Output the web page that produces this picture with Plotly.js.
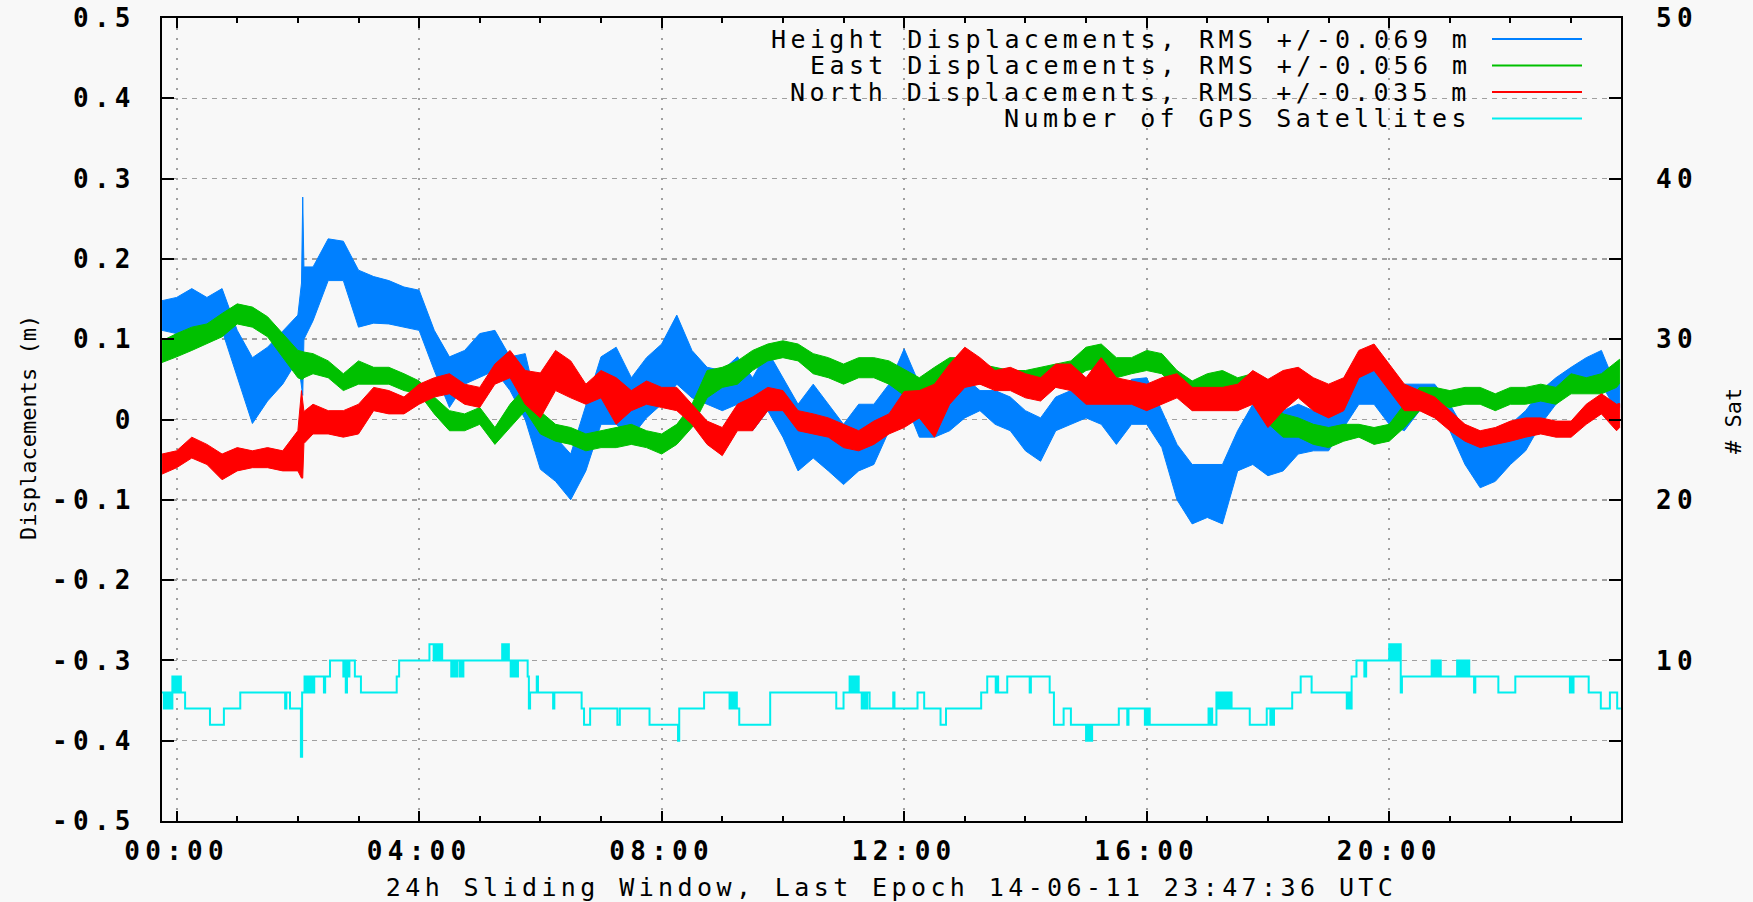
<!DOCTYPE html>
<html><head><meta charset="utf-8">
<script src="https://cdn.plot.ly/plotly-3.0.1.min.js"></script>
<style>
html,body{margin:0;padding:0;background:#f8f8f8;}
#chart{width:1753px;height:902px;}
.xtick text, .ytick text, .y2tick text { letter-spacing: 5.3px; }
text.xtitle, text.annotation-text[style*="25px"] { letter-spacing: 4.4px; }
</style></head><body><div id="chart"></div>
<script>
// Sample times, hours of 2014-06-11 UTC (negative = previous day)
const hours = [-0.24,
  0, 0.25, 0.5, 0.75,
  1, 1.25, 1.5, 1.75,
  2, 2.06, 2.08, 2.1, 2.25, 2.5, 2.75,
  3, 3.25, 3.5, 3.75,  4, 4.25, 4.5, 4.75,  5, 5.25, 5.5, 5.75,
  6, 6.25, 6.5, 6.75,  7, 7.25, 7.5, 7.75,  8, 8.25, 8.5, 8.75,
  9, 9.25, 9.5, 9.75,  10, 10.25, 10.5, 10.75,  11, 11.25, 11.5, 11.75,
  12, 12.25, 12.5, 12.75,  13, 13.25, 13.5, 13.75,  14, 14.25, 14.5, 14.75,
  15, 15.25, 15.5, 15.75,  16, 16.25, 16.5, 16.75,  17, 17.25, 17.5, 17.75,
  18, 18.25, 18.5, 18.75,  19, 19.25, 19.5, 19.75,  20, 20.25, 20.5, 20.75,
  21, 21.25, 21.5, 21.75,  22, 22.25, 22.5, 22.75,  23, 23.25, 23.5, 23.75,
  23.8];

// Height displacement envelope (m): upper / lower edge of the noisy trace
const heightHi = [0.148,
  0.152, 0.163, 0.152, 0.163,
  0.111, 0.077, 0.09, 0.11,
  0.13, 0.17, 0.277, 0.19, 0.19, 0.225, 0.222,
  0.186, 0.178, 0.173, 0.165,  0.161, 0.111, 0.078, 0.086,  0.107, 0.111, 0.078, 0.082,
  0.002, -0.022, -0.043, 0.019,  0.078, 0.09, 0.052, 0.077,  0.094, 0.13, 0.086, 0.065,
  0.061, 0.078, 0.052, 0.085,  0.052, 0.019, 0.044, 0.019,  -0.006, 0.019, 0.019, 0.044,
  0.088, 0.044, 0.044, 0.036,  0.052, 0.036, 0.036, 0.028,  0.011, 0.002, 0.028, 0.036,
  0.052, 0.044, 0.028, 0.05,  0.052, 0.011, -0.031, -0.056,  -0.056, -0.056, -0.014, 0.019,
  0.015, 0.011, 0.019, 0.011,  0.011, 0.04, 0.061, 0.065,  0.04, 0.044, 0.044, 0.044,
  0.019, -0.014, -0.035, -0.031,  -0.006, 0.011, 0.036, 0.052,  0.065, 0.077, 0.086, 0.04,
  0.045];
const heightLo = [0.111,
  0.107, 0.115, 0.115, 0.111,
  0.052, -0.005, 0.023, 0.044,
  0.075, 0.04, 0.03, 0.10, 0.123, 0.173, 0.173,
  0.115, 0.12, 0.119, 0.115,  0.111, 0.061, 0.015, 0.044,  0.052, 0.061, 0.036, 0.0,
  -0.062, -0.077, -0.10, -0.064,  -0.006, -0.006, -0.022, 0.002,  0.019, 0.044, 0.027, 0.019,
  0.011, 0.019, -0.014, 0.011,  -0.022, -0.064, -0.048, -0.064,  -0.081, -0.064, -0.056, -0.014,
  0.025, -0.022, -0.022, -0.014,  0.002, 0.011, -0.006, -0.014,  -0.039, -0.052, -0.014, -0.006,
  0.002, -0.006, -0.031, -0.006,  -0.006, -0.035, -0.10, -0.13,  -0.122, -0.13, -0.064, -0.056,
  -0.07, -0.064, -0.043, -0.039,  -0.039, -0.01, 0.019, 0.019,  -0.006, -0.014, 0.011, 0.019,
  -0.014, -0.056, -0.085, -0.077,  -0.056, -0.039, -0.006, 0.019,  0.036, 0.044, 0.044, 0.011,
  0.015];

// East displacement envelope (m)
const eastHi = [0.098,
  0.107, 0.115, 0.119, 0.132,
  0.144, 0.14, 0.128, 0.107,
  0.086, 0.085, 0.084, 0.084, 0.082, 0.073, 0.057,
  0.073, 0.065, 0.065, 0.057,  0.048, 0.028, 0.011, 0.007,  0.015, -0.01, 0.019, 0.04,
  0.01, -0.006, -0.01, -0.018,  -0.014, -0.01, -0.006, -0.014,  -0.018, -0.006, 0.019, 0.061,
  0.065, 0.073, 0.086, 0.094,  0.098, 0.094, 0.082, 0.077,  0.069, 0.077, 0.077, 0.073,
  0.063, 0.052, 0.065, 0.077,  0.077, 0.069, 0.065, 0.061,  0.061, 0.065, 0.069, 0.073,
  0.09, 0.094, 0.077, 0.077,  0.086, 0.082, 0.061, 0.048,  0.057, 0.061, 0.052, 0.057,
  0.028, 0.007, 0.002, -0.006,  -0.01, -0.006, -0.006, -0.01,  -0.006, 0.019, 0.04, 0.04,
  0.036, 0.04, 0.04, 0.032,  0.04, 0.04, 0.044, 0.04,  0.057, 0.052, 0.057, 0.073,
  0.075];
const eastLo = [0.071,
  0.078, 0.086, 0.094, 0.103,
  0.119, 0.115, 0.103, 0.078,
  0.052, 0.05, 0.05, 0.052, 0.057, 0.052, 0.036,
  0.044, 0.044, 0.044, 0.036,  0.032, 0.007, -0.014, -0.014,  -0.006, -0.031, -0.01, 0.011,
  -0.018, -0.027, -0.031, -0.039,  -0.035, -0.035, -0.031, -0.035,  -0.043, -0.031, -0.01, 0.027,
  0.04, 0.044, 0.061, 0.073,  0.077, 0.073, 0.057, 0.052,  0.044, 0.052, 0.052, 0.044,
  0.03, 0.027, 0.04, 0.052,  0.052, 0.044, 0.04, 0.04,  0.036, 0.04, 0.044, 0.048,
  0.061, 0.065, 0.052, 0.057,  0.061, 0.057, 0.036, 0.023,  0.032, 0.036, 0.027, 0.032,
  -0.005, -0.022, -0.022, -0.031,  -0.035, -0.027, -0.022, -0.031,  -0.027, -0.01, 0.011, 0.019,
  0.015, 0.019, 0.019, 0.011,  0.019, 0.019, 0.023, 0.019,  0.032, 0.032, 0.032, 0.04,
  0.045];

// North displacement envelope (m)
const northHi = [-0.043,
  -0.039, -0.022, -0.031, -0.043,
  -0.035, -0.039, -0.035, -0.039,
  -0.014, 0.036, 0.02, 0.01, 0.019, 0.011, 0.011,
  0.019, 0.04, 0.036, 0.028,  0.044, 0.052, 0.057, 0.044,  0.04, 0.069, 0.086, 0.061,
  0.058, 0.086, 0.073, 0.044,  0.061, 0.052, 0.036, 0.048,  0.04, 0.04, 0.019, -0.002,
  -0.01, 0.019, 0.028, 0.04,  0.036, 0.011, 0.007, 0.002,  -0.006, -0.014, -0.002, 0.007,
  0.035, 0.036, 0.044, 0.069,  0.09, 0.077, 0.061, 0.065,  0.057, 0.052, 0.069, 0.069,
  0.052, 0.077, 0.052, 0.048,  0.044, 0.052, 0.057, 0.04,  0.04, 0.04, 0.044, 0.061,
  0.05, 0.061, 0.065, 0.052,  0.044, 0.052, 0.086, 0.094,  0.069, 0.044, 0.036, 0.028,
  0.011, -0.006, -0.014, -0.01,  -0.002, 0.002, 0.002, -0.002,  -0.002, 0.019, 0.032, 0.019,
  0.02];
const northLo = [-0.068,
  -0.06, -0.048, -0.056, -0.075,
  -0.064, -0.06, -0.06, -0.064,
  -0.064, -0.073, -0.073, -0.03, -0.018, -0.018, -0.022,
  -0.018, 0.011, 0.007, 0.007,  0.019, 0.028, 0.032, 0.019,  0.015, 0.044, 0.052, 0.019,
  0.002, 0.036, 0.027, 0.019,  0.027, -0.006, 0.011, 0.019,  0.015, 0.011, -0.006, -0.031,
  -0.045, -0.014, -0.014, 0.011,  0.011, -0.014, -0.018, -0.022,  -0.035, -0.039, -0.031, -0.018,
  -0.01, 0.002, -0.022, 0.019,  0.04, 0.044, 0.036, 0.036,  0.027, 0.023, 0.04, 0.036,
  0.019, 0.019, 0.019, 0.019,  0.011, 0.019, 0.027, 0.011,  0.011, 0.011, 0.011, 0.019,
  -0.01, 0.011, 0.027, 0.011,  0.002, 0.011, 0.052, 0.061,  0.036, 0.011, 0.011, 0.002,
  -0.014, -0.027, -0.035, -0.031,  -0.027, -0.022, -0.018, -0.022,  -0.022, -0.006, 0.007, -0.014,
  -0.01];

// Number of GPS satellites: change times (hours) and counts held from that time on
const satHours = [-0.24, -0.21, -0.18, -0.15, -0.12, -0.09, -0.07, -0.05, -0.03, -0.01, 0.01, 0.03, 0.05, 0.07,
  0.14, 0.55, 0.78, 1.05, 1.79, 1.81, 1.87, 2.05, 2.07, 2.11, 2.14, 2.17, 2.20, 2.23, 2.25, 2.27,
  2.43, 2.45, 2.53, 2.75, 2.77, 2.79, 2.81, 2.83, 2.85, 2.94, 3.04, 3.63, 3.67,
  4.17, 4.24, 4.26, 4.29, 4.31, 4.34, 4.36, 4.38, 4.53, 4.55, 4.57, 4.59, 4.61, 4.63, 4.67, 4.69, 4.71, 4.73,
  5.37, 5.39, 5.41, 5.44, 5.46, 5.48, 5.51, 5.53, 5.56, 5.58, 5.61, 5.63, 5.79, 5.81, 5.83, 5.94, 5.96,
  6.21, 6.23, 6.68, 6.72, 6.82, 7.27, 7.31, 7.80, 8.27, 8.29, 8.70, 9.12, 9.15, 9.18, 9.21, 9.24, 9.28,
  9.79, 10.88, 11.00, 11.10, 11.13, 11.16, 11.19, 11.22, 11.25, 11.30, 11.33, 11.36, 11.39, 11.43,
  11.82, 11.84, 12.22, 12.33, 12.60, 12.69, 13.27, 13.37, 13.51, 13.53, 13.55, 13.70, 14.07, 14.09,
  14.40, 14.47, 14.63, 14.75, 15.00, 15.02, 15.04, 15.06, 15.08, 15.10, 15.54, 15.68, 15.70,
  15.97, 15.99, 16.01, 16.03, 16.05, 17.02, 17.04, 17.06, 17.08, 17.15, 17.18, 17.21, 17.24, 17.27,
  17.30, 17.33, 17.36, 17.38, 17.40, 17.70, 17.98, 18.04, 18.06, 18.08, 18.10, 18.40, 18.54, 18.72,
  19.30, 19.33, 19.36, 19.38, 19.46, 19.59, 19.62, 20.00, 20.03, 20.06, 20.09, 20.12, 20.15, 20.17,
  20.19, 20.21, 20.70, 20.73, 20.76, 20.79, 20.82, 20.85, 21.12, 21.15, 21.18, 21.21, 21.24, 21.27,
  21.30, 21.32, 21.40, 21.42, 21.80, 22.08, 22.98, 23.00, 23.02, 23.04, 23.29, 23.49, 23.64, 23.76, 23.82];
const satCount = [8, 7, 8, 7, 8, 7, 9, 8, 9, 8, 9, 8, 9, 8,
  7, 6, 7, 8, 7, 8, 7, 4, 8, 9, 8, 9, 8, 9, 8, 9,
  8, 9, 10, 9, 10, 8, 10, 9, 10, 9, 8, 9, 10,
  11, 10, 11, 10, 11, 10, 11, 10, 9, 10, 9, 10, 9, 10, 9, 10, 9, 10,
  11, 10, 11, 10, 11, 10, 9, 10, 9, 10, 9, 10, 9, 7, 8, 9, 8,
  7, 8, 7, 6, 7, 6, 7, 6, 5, 7, 8, 7, 8, 7, 8, 7, 6,
  8, 7, 8, 9, 8, 9, 8, 9, 8, 7, 8, 7, 8, 7,
  8, 7, 8, 7, 6, 7, 8, 9, 8, 9, 8, 9, 8, 9,
  8, 6, 7, 6, 5, 6, 5, 6, 5, 6, 7, 6, 7,
  6, 7, 6, 7, 6, 7, 6, 7, 6, 8, 7, 8, 7, 8,
  7, 8, 7, 8, 7, 6, 7, 6, 7, 6, 7, 8, 9, 8,
  7, 8, 7, 9, 10, 9, 10, 11, 10, 11, 10, 11, 10, 11,
  8, 9, 10, 9, 10, 9, 10, 9, 10, 9, 10, 9, 10, 9,
  10, 9, 8, 9, 8, 9, 8, 9, 8, 9, 8, 7, 8, 7, 7];

const seriesNames = ['Height Displacements, RMS +/-0.069 m', 'East Displacements, RMS +/-0.056 m',
                     'North Displacements, RMS +/-0.035 m', 'Number of GPS Satellites'];
const seriesColors = ['#0080ff', '#00c000', '#ff0000', '#00eeee'];
const yTickVals = [-0.5, -0.4, -0.3, -0.2, -0.1, 0, 0.1, 0.2, 0.3, 0.4, 0.5];
const yTickText = ['-0.5', '-0.4', '-0.3', '-0.2', '-0.1', '0', '0.1', '0.2', '0.3', '0.4', '0.5'];
const y2TickVals = [10, 20, 30, 40, 50];
const xTitle = '24h Sliding Window, Last Epoch 14-06-11 23:47:36 UTC';
const yTitle = 'Displacements (m)';
const y2Title = '# Sat';

const DAY0 = Date.UTC(2014, 5, 11);
const toMs = h => DAY0 + h * 3600000;
const xMs = hours.map(toMs);

function band(hi, lo, i) {
  return {
    type: 'scatter', mode: 'lines', name: seriesNames[i],
    x: xMs.concat(xMs.slice().reverse()),
    y: hi.concat(lo.slice().reverse()),
    fill: 'toself', fillcolor: seriesColors[i],
    line: {color: seriesColors[i], width: 1},
    hoverinfo: 'skip', showlegend: false
  };
}

const traces = [
  band(heightHi, heightLo, 0),
  band(eastHi, eastLo, 1),
  band(northHi, northLo, 2),
  {type: 'scatter', mode: 'lines', name: seriesNames[3], x: satHours.map(toMs), y: satCount,
   yaxis: 'y2', line: {color: seriesColors[3], width: 2, shape: 'hv'}, hoverinfo: 'skip', showlegend: false}
];

const MONO = 'DejaVu Sans Mono';
const PL = 162, PR = 1621, PT = 18, PB = 821;
const px2x = p => (p - PL) / (PR - PL);
const px2y = p => (PB - p) / (PB - PT);
const legendRowsPx = [39, 65.5, 92, 118.5];

const annotations = seriesNames.map((n, i) => ({
  xref: 'paper', yref: 'paper', x: px2x(1473), y: px2y(legendRowsPx[i]),
  xanchor: 'right', yanchor: 'middle', text: n, showarrow: false,
  font: {family: MONO, size: 25, color: '#000'}
}));
// vertical axis titles (placed like the original's)
annotations.push({xref: 'paper', yref: 'paper', x: px2x(28), y: px2y(428), textangle: -90,
  xanchor: 'center', yanchor: 'middle', text: yTitle, showarrow: false,
  font: {family: MONO, size: 22, color: '#000'}});
annotations.push({xref: 'paper', yref: 'paper', x: px2x(1733), y: px2y(421), textangle: -90,
  xanchor: 'center', yanchor: 'middle', text: y2Title, showarrow: false,
  font: {family: MONO, size: 22, color: '#000'}});

const shapes = seriesNames.map((n, i) => ({
  type: 'line', xref: 'paper', yref: 'paper',
  x0: px2x(1492), x1: px2x(1582), y0: px2y(legendRowsPx[i]), y1: px2y(legendRowsPx[i]),
  line: {color: seriesColors[i], width: 2}
}));

const tickFont = {family: MONO, size: 26, weight: 'bold', color: '#000'};

const layout = {
  width: 1753, height: 902,
  paper_bgcolor: '#f8f8f8', plot_bgcolor: '#f8f8f8',
  margin: {l: PL, r: 1753 - PR, t: PT, b: 902 - PB, pad: 0},
  showlegend: false, hovermode: false,
  font: {family: MONO, size: 25, color: '#000'},
  xaxis: {
    type: 'date', range: [toMs(-0.241), toMs(23.823)],
    dtick: 4 * 3600000, tickformat: '%H:%M',
    ticks: 'inside', ticklen: 10, tickwidth: 2, tickcolor: '#000',
    minor: {dtick: 3600000, ticks: 'inside', ticklen: 5, tickwidth: 2, tickcolor: '#000', showgrid: false},
    showline: true, linewidth: 2, linecolor: '#000', mirror: 'ticks',
    showgrid: true, gridcolor: '#a0a0a0', gridwidth: 2, griddash: '2px,8px',
    zeroline: false, ticklabelstandoff: 6, automargin: false,
    tickfont: tickFont,
    title: {text: xTitle, font: {family: MONO, size: 25, color: '#000'}}
  },
  yaxis: {
    range: [-0.5, 0.5], tickvals: yTickVals, ticktext: yTickText,
    ticks: 'inside', ticklen: 12, tickwidth: 2, tickcolor: '#000',
    showline: true, linewidth: 2, linecolor: '#000', mirror: 'ticks',
    showgrid: true, gridcolor: '#a0a0a0', gridwidth: 1.5, griddash: '5px,5px',
    zeroline: false, ticklabelstandoff: 19, automargin: false,
    tickfont: tickFont
  },
  yaxis2: {
    overlaying: 'y', side: 'right', range: [0, 50], tickvals: y2TickVals,
    ticks: '', showline: false, showgrid: false, zeroline: false, ticklabelstandoff: 34, automargin: false,
    tickfont: tickFont
  },
  annotations: annotations,
  shapes: shapes
};

Plotly.newPlot('chart', traces, layout, {staticPlot: true, displayModeBar: false});
</script></body></html>
